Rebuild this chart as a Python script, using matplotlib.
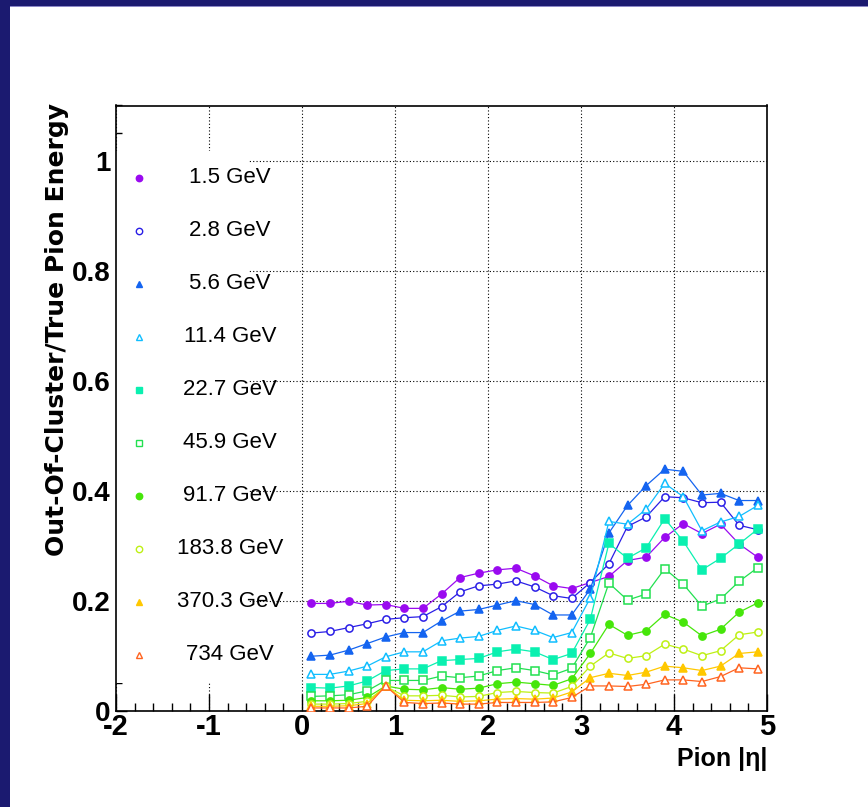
"""Out-of-cluster energy fraction vs pion |eta| for several beam energies."""

import matplotlib

matplotlib.use("Agg")
import matplotlib.pyplot as plt
from matplotlib.patches import Rectangle
from matplotlib.ticker import FuncFormatter, MultipleLocator

plt.rcParams["axes.unicode_minus"] = False

ETA = [0.1, 0.3, 0.5, 0.7, 0.9, 1.1, 1.3, 1.5, 1.7, 1.9, 2.1, 2.3, 2.5,
       2.7, 2.9, 3.1, 3.3, 3.5, 3.7, 3.9, 4.1, 4.3, 4.5, 4.7, 4.9]

ENERGY_LABELS = ["1.5 GeV", "2.8 GeV", "5.6 GeV", "11.4 GeV", "22.7 GeV",
                 "45.9 GeV", "91.7 GeV", "183.8 GeV", "370.3 GeV", "734 GeV"]

E_1p5 = [0.195, 0.195, 0.199, 0.192, 0.193, 0.186, 0.186, 0.212, 0.242, 0.250,
         0.256, 0.259, 0.245, 0.227, 0.222, 0.233, 0.244, 0.273, 0.279, 0.315,
         0.340, 0.322, 0.339, 0.303, 0.279]
E_2p8 = [0.141, 0.144, 0.151, 0.158, 0.166, 0.169, 0.171, 0.189, 0.216, 0.227,
         0.230, 0.236, 0.225, 0.209, 0.204, 0.233, 0.267, 0.335, 0.352, 0.389,
         0.387, 0.378, 0.379, 0.337, 0.329]
E_5p6 = [0.099, 0.101, 0.110, 0.122, 0.134, 0.142, 0.142, 0.163, 0.181, 0.184,
         0.192, 0.200, 0.193, 0.174, 0.174, 0.221, 0.323, 0.373, 0.409, 0.439,
         0.435, 0.392, 0.395, 0.382, 0.382]
E_11p4 = [0.066, 0.066, 0.072, 0.081, 0.098, 0.107, 0.107, 0.127, 0.132, 0.135,
          0.146, 0.154, 0.146, 0.133, 0.142, 0.205, 0.344, 0.339, 0.366, 0.413,
          0.389, 0.327, 0.343, 0.353, 0.373]
E_22p7 = [0.042, 0.041, 0.045, 0.054, 0.073, 0.076, 0.076, 0.091, 0.093, 0.095,
          0.107, 0.112, 0.107, 0.093, 0.104, 0.166, 0.304, 0.277, 0.296, 0.349,
          0.308, 0.256, 0.277, 0.303, 0.330]
E_45p9 = [0.026, 0.027, 0.029, 0.036, 0.055, 0.055, 0.055, 0.063, 0.060, 0.063,
          0.073, 0.078, 0.073, 0.065, 0.077, 0.133, 0.232, 0.201, 0.212, 0.258,
          0.230, 0.190, 0.203, 0.235, 0.260]
E_91p7 = [0.018, 0.018, 0.019, 0.024, 0.045, 0.039, 0.038, 0.042, 0.039, 0.041,
          0.049, 0.052, 0.049, 0.046, 0.058, 0.104, 0.157, 0.137, 0.145, 0.175,
          0.161, 0.136, 0.148, 0.179, 0.196]
E_183p8 = [0.012, 0.012, 0.013, 0.017, 0.044, 0.027, 0.027, 0.028, 0.025, 0.026,
           0.033, 0.035, 0.033, 0.032, 0.044, 0.081, 0.105, 0.095, 0.100, 0.121,
           0.112, 0.100, 0.109, 0.138, 0.143]
E_370p3 = [0.008, 0.008, 0.009, 0.013, 0.045, 0.019, 0.018, 0.019, 0.017, 0.018,
           0.021, 0.022, 0.021, 0.023, 0.034, 0.060, 0.068, 0.064, 0.070, 0.081,
           0.078, 0.073, 0.081, 0.104, 0.107]
E_734 = [0.005, 0.005, 0.005, 0.008, 0.045, 0.015, 0.013, 0.014, 0.012, 0.012,
         0.015, 0.015, 0.015, 0.016, 0.024, 0.045, 0.045, 0.044, 0.048, 0.056,
         0.056, 0.053, 0.062, 0.078, 0.076]

SERIES = [E_1p5, E_2p8, E_5p6, E_11p4, E_22p7, E_45p9, E_91p7, E_183p8, E_370p3, E_734]

# rainbow palette, one colour per beam energy
COLORS = ["#9a0af0", "#2a1ee6", "#1464f0", "#10beff", "#0af0b0",
          "#22e050", "#46e60a", "#bef014", "#ffc800", "#ff6420"]
MARKERS = ["o", "o", "^", "^", "s", "s", "o", "o", "^", "^"]
FILLED = [True, False, True, False, True, False, True, False, True, False]

NAVY = "#1b1a70"


def draw_frame(fig):
    # slide-style border: bar on top, bar on the left
    fig.patches.append(Rectangle((0, 1 - 6 / 807), 1, 6 / 807, transform=fig.transFigure,
                                 facecolor=NAVY, edgecolor="none", zorder=10))
    fig.patches.append(Rectangle((0, 1 - 7 / 807), 1, 1 / 807, transform=fig.transFigure,
                                 facecolor="#8c88c8", edgecolor="none", zorder=10))
    fig.patches.append(Rectangle((0, 0), 10 / 868, 1, transform=fig.transFigure,
                                 facecolor=NAVY, edgecolor="none", zorder=11))


def main() -> None:
    fig = plt.figure(figsize=(8.68, 8.07), dpi=100)
    ax = fig.add_axes([116 / 868, 96.3 / 807, 651 / 868, 605.2 / 807])
    draw_frame(fig)

    for vals, color, marker, filled in zip(SERIES, COLORS, MARKERS, FILLED):
        ax.plot(ETA, vals, color=color, lw=0.9, marker=marker, ms=5.2,
                mfc=color if filled else "white", mec=color, mew=1.1, zorder=3)

    ax.set_xlim(-2, 5)
    ax.set_ylim(0, 1.1)
    ax.xaxis.set_major_locator(MultipleLocator(1))
    ax.xaxis.set_minor_locator(MultipleLocator(0.2))
    ax.yaxis.set_major_locator(MultipleLocator(0.2))
    ax.yaxis.set_minor_locator(MultipleLocator(0.05))
    ax.yaxis.set_major_formatter(FuncFormatter(lambda v, _: f"{v:g}"))
    ax.xaxis.set_major_formatter(FuncFormatter(lambda v, _: f"{v:g}"))
    ax.tick_params(which="both", direction="in", top=False, right=False, color="black")
    ax.tick_params(axis="x", which="major", length=12, width=1, pad=2)
    ax.tick_params(axis="x", which="minor", length=6, width=1)
    ax.tick_params(axis="y", which="major", length=8, width=1, pad=4)
    ax.tick_params(axis="y", which="minor", length=4.5, width=1)
    for lab in ax.get_xticklabels():
        lab.set_fontfamily("Liberation Sans")
        lab.set_fontweight("bold")
        lab.set_fontsize(21)
    for lab in ax.get_yticklabels():
        lab.set_fontfamily("Liberation Sans")
        lab.set_fontweight("bold")
        lab.set_fontsize(20)
    for sp in ax.spines.values():
        sp.set_linewidth(1.2)

    ax.grid(True, which="major", color="black", ls=(0, (1, 2)), lw=0.8, zorder=0)
    ax.set_axisbelow(True)

    # legend: white block on the left of the frame, markers and centred labels
    ax.add_patch(Rectangle((0, 0.0455), 0.203, 0.8795, transform=ax.transAxes,
                           facecolor="white", edgecolor="none", zorder=1.5))
    top = 0.9685
    step = 0.0963
    for i, (label, color, marker, filled) in enumerate(zip(ENERGY_LABELS, COLORS, MARKERS, FILLED)):
        y = top - i * step
        ax.plot([-2 + 23 / 93], [y], marker=marker, ms=4.6, color=color,
                mfc=color if filled else "white", mec=color, mew=1.0, zorder=4, clip_on=False)
        ax.text(-2 + 114 / 93, y, label, ha="center", va="center", fontsize=16,
                family="Liberation Sans", zorder=4)

    fig.text(767 / 868, 1 - 759 / 807, "Pion |η|", ha="right", va="center",
             fontsize=18, fontweight="bold", family="Liberation Sans")
    fig.text(57 / 868, 1 - 103 / 807, "Out-Of-Cluster/True Pion Energy", rotation=90,
             ha="center", va="top", fontsize=18, fontweight="bold", family="DejaVu Sans")

    fig.savefig("out.png", dpi=100)
    plt.close(fig)


if __name__ == "__main__":
    main()
